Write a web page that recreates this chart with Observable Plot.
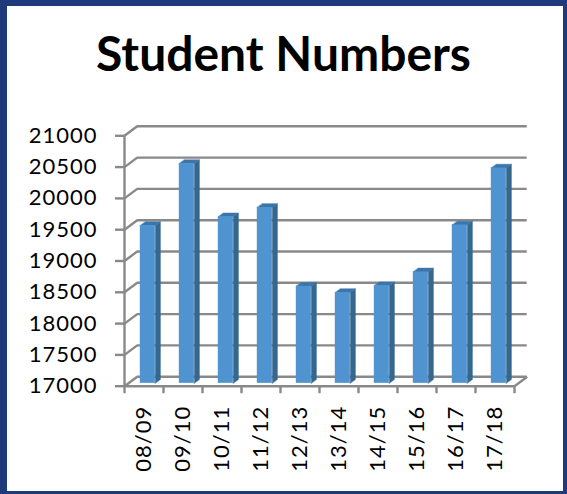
<!DOCTYPE html>
<html><head><meta charset="utf-8">
<script src="https://cdn.jsdelivr.net/npm/d3@7"></script>
<script src="https://cdn.jsdelivr.net/npm/@observablehq/plot@0.6"></script>
<style>
html,body{margin:0;padding:0;background:#fff;}
#page{position:relative;width:567px;height:494px;overflow:hidden;background:#fff;}
#frame{position:absolute;left:0;top:0;width:567px;height:494px;box-sizing:border-box;border-style:solid;border-color:#1F3A7A;border-width:6px 4px 3px 7px;pointer-events:none;}
#title{position:absolute;left:0;top:29px;width:567px;text-align:center;font-family:Lato,sans-serif;font-weight:700;font-size:48px;line-height:48px;color:#000;}
#chart{position:absolute;left:0;top:0;}
#chart text{letter-spacing:1px;}
</style></head><body>
<div id="page"><div id="chart"></div><div id="title">Student Numbers</div><div id="frame"></div></div>
<script>
const years = ["08/09","09/10","10/11","11/12","12/13","13/14","14/15","15/16","16/17","17/18"];
const students = [19520, 20510, 19660, 19810, 18550, 18450, 18560, 18780, 19530, 20440];
const yTicks = [17000, 17500, 18000, 18500, 19000, 19500, 20000, 20500, 21000];

const W = 567, H = 494, mL = 124, mR = 53, mT = 135.3, mB = 108.3;
const n = years.length;
const pxX = n / (W - mL - mR);
const pxY = (yTicks[yTicks.length-1] - yTicks[0]) / (H - mT - mB);
const DX = 12.7 * pxX, DY = 9.5 * pxY;   // depth of the 3D box
const f0 = 0.3, f1 = 0.7;                 // bar depth range
const halfW = 7.5 * pxX;
const base = yTicks[0];

const frontFace = students.map((v, i) => ({
  x1: i + 0.5 - halfW + f0*DX, x2: i + 0.5 + halfW + f0*DX,
  y1: base + f0*DY, y2: v + f0*DY
}));
const sideFace = students.flatMap((v, i) => {
  const xr = i + 0.5 + halfW;
  return [
    {x: xr + f0*DX, y: base + f0*DY, z: i},
    {x: xr + f1*DX, y: base + f1*DY, z: i},
    {x: xr + f1*DX, y: v + f1*DY, z: i},
    {x: xr + f0*DX, y: v + f0*DY, z: i}
  ];
});
const topFace = students.flatMap((v, i) => {
  const xl = i + 0.5 - halfW, xr = i + 0.5 + halfW;
  return [
    {x: xl + f0*DX, y: v + f0*DY, z: i},
    {x: xr + f0*DX, y: v + f0*DY, z: i},
    {x: xr + f1*DX, y: v + f1*DY, z: i},
    {x: xl + f1*DX, y: v + f1*DY, z: i}
  ];
});
const bounds = d3.range(0, n + 1);
const grid = "#898989", gw = 2.4;

const chart = Plot.plot({
  width: W, height: H,
  marginLeft: mL, marginRight: mR, marginTop: mT, marginBottom: mB,
  style: {background: "transparent", overflow: "visible"},
  x: {type: "linear", domain: [0, n], axis: null},
  y: {domain: [base, yTicks[yTicks.length-1]], axis: null},
  marks: [
    Plot.ruleY(yTicks, {y: d => d + DY, x1: DX, x2: n + DX, stroke: grid, strokeWidth: gw}),
    Plot.link(yTicks, {x1: 0, y1: d => d, x2: DX, y2: d => d + DY, stroke: grid, strokeWidth: gw}),
    Plot.ruleX([0], {y1: base, y2: yTicks[yTicks.length-1], stroke: grid, strokeWidth: gw}),
    Plot.ruleY([base], {x1: 0, x2: n, stroke: grid, strokeWidth: gw}),
    Plot.link([n], {x1: d => d, y1: base, x2: d => d + DX, y2: base + DY, stroke: grid, strokeWidth: gw}),
    Plot.line(sideFace, {x: "x", y: "y", z: "z", fill: "#35678F", stroke: "#35678F", strokeWidth: 0.5, curve: "linear-closed"}),
    Plot.line(topFace, {x: "x", y: "y", z: "z", fill: "#3B75AA", stroke: "#3B75AA", strokeWidth: 0.5, curve: "linear-closed"}),
    Plot.rect(frontFace, {x1: "x1", x2: "x2", y1: "y1", y2: "y2", fill: "#4F94D0"}),
    Plot.ruleY(yTicks, {y: d => d, x1: -9 * pxX, x2: 0, stroke: grid, strokeWidth: gw}),
    Plot.ruleX(bounds, {x: d => d, y1: base, y2: base - 7.5 * pxY, stroke: grid, strokeWidth: gw}),
    Plot.text(yTicks, {x: 0, y: d => d, text: d => String(d), dx: -27, textAnchor: "end", fontSize: 22, fontFamily: "Lato", fill: "#000"}),
    Plot.text(years, {x: (d, i) => i + 0.5, y: base, text: d => d, rotate: -90, textAnchor: "end", dy: 19.5, fontSize: 22, fontFamily: "Lato", fill: "#000"})
  ]
});
document.getElementById("chart").appendChild(chart);
</script>
</body></html>
